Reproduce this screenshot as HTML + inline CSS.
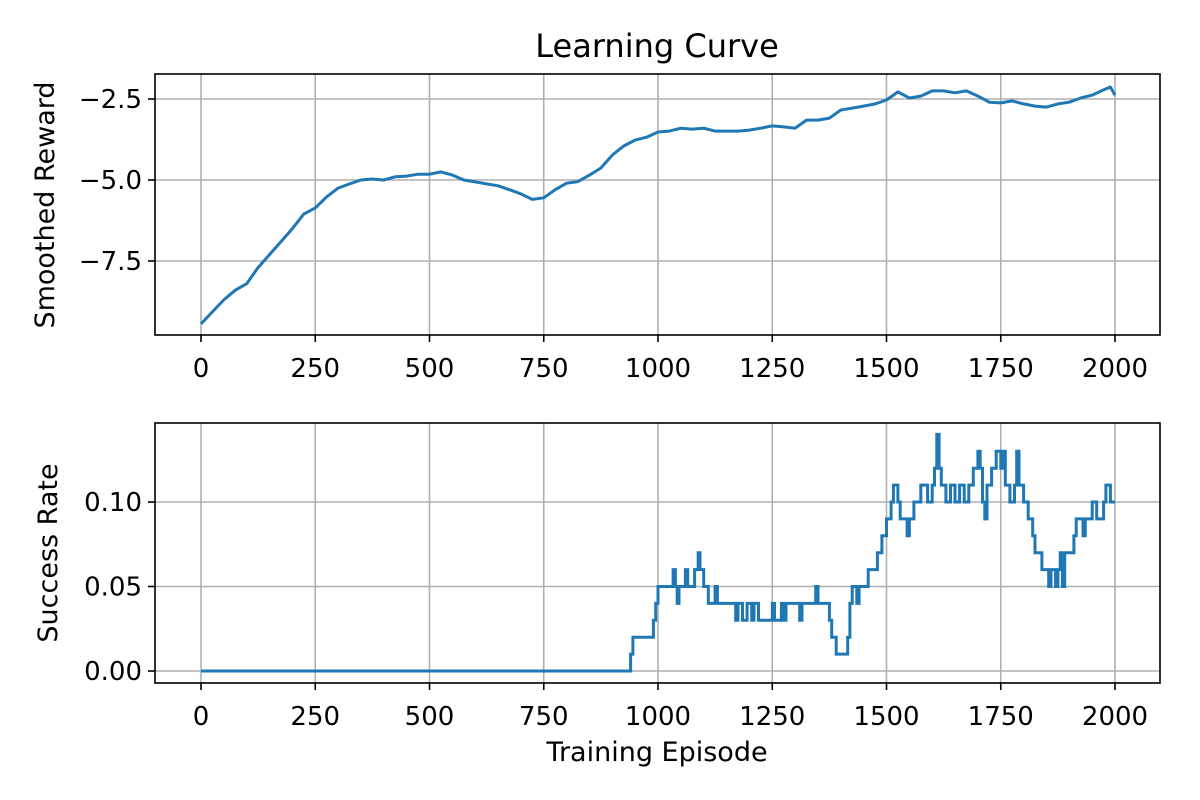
<!DOCTYPE html>
<html><head><meta charset="utf-8"><style>
html,body{margin:0;padding:0;background:#fff}
svg{display:block;font-family:"DejaVu Sans","Liberation Sans",sans-serif}
</style></head><body>
<svg id="chart" width="1200" height="800" viewBox="0 0 1200 800"></svg>
<script>
const episodesTop = [0,25,50,75,100,125,150,175,200,225,250,275,300,325,350,375,400,425,450,475,500,525,550,575,600,625,650,675,700,725,750,775,800,825,850,875,900,925,950,975,1000,1025,1050,1075,1100,1125,1150,1175,1200,1225,1250,1275,1300,1325,1350,1375,1400,1425,1450,1475,1500,1525,1550,1575,1600,1625,1650,1675,1700,1725,1750,1775,1800,1825,1850,1875,1900,1925,1950,1975,1990,2000];
const rewardValues = [-9.44,-9.07,-8.7,-8.4,-8.2,-7.7,-7.3,-6.9,-6.5,-6.05,-5.86,-5.52,-5.25,-5.12,-5.0,-4.97,-5.0,-4.9,-4.88,-4.82,-4.82,-4.75,-4.85,-5.0,-5.06,-5.12,-5.18,-5.3,-5.43,-5.6,-5.55,-5.3,-5.1,-5.05,-4.85,-4.63,-4.23,-3.95,-3.77,-3.68,-3.52,-3.49,-3.4,-3.43,-3.4,-3.49,-3.49,-3.49,-3.46,-3.4,-3.33,-3.36,-3.4,-3.15,-3.15,-3.09,-2.84,-2.78,-2.72,-2.65,-2.53,-2.28,-2.47,-2.41,-2.25,-2.25,-2.31,-2.25,-2.41,-2.6,-2.62,-2.56,-2.65,-2.72,-2.75,-2.65,-2.6,-2.47,-2.38,-2.22,-2.13,-2.38];
const episodesBottom = [0,935,940,945,990,995,1000,1033,1038,1042,1046,1060,1065,1080,1088,1092,1100,1110,1125,1130,1170,1175,1185,1195,1205,1210,1220,1250,1255,1270,1275,1280,1310,1315,1345,1350,1375,1380,1390,1415,1420,1425,1435,1440,1460,1480,1490,1500,1510,1515,1525,1530,1545,1550,1560,1575,1590,1600,1605,1610,1615,1620,1630,1640,1650,1660,1670,1680,1690,1700,1705,1710,1715,1720,1730,1740,1750,1755,1760,1770,1780,1785,1790,1800,1810,1820,1825,1840,1855,1860,1870,1875,1880,1885,1890,1910,1915,1930,1935,1950,1960,1975,1980,1990,2000];
const successValues = [0,0,0.01,0.02,0.03,0.04,0.05,0.06,0.05,0.04,0.05,0.06,0.05,0.06,0.07,0.06,0.05,0.04,0.05,0.04,0.03,0.04,0.03,0.04,0.03,0.04,0.03,0.04,0.03,0.04,0.03,0.04,0.03,0.04,0.05,0.04,0.03,0.02,0.01,0.02,0.04,0.05,0.04,0.05,0.06,0.07,0.08,0.09,0.10,0.11,0.10,0.09,0.08,0.09,0.10,0.11,0.10,0.11,0.12,0.14,0.12,0.11,0.10,0.11,0.10,0.11,0.10,0.11,0.12,0.13,0.12,0.10,0.09,0.11,0.12,0.13,0.12,0.13,0.11,0.10,0.11,0.13,0.11,0.10,0.09,0.08,0.07,0.06,0.05,0.06,0.05,0.06,0.07,0.05,0.07,0.08,0.09,0.08,0.09,0.10,0.09,0.10,0.11,0.10,0.10];
const xTicks = [0,250,500,750,1000,1250,1500,1750,2000];
const yTicksTop = [-2.5,-5.0,-7.5];
const yTicksBottom = [0.00,0.05,0.10];

const NS="http://www.w3.org/2000/svg";
const svg=document.getElementById('chart');
function mk(tag,attrs,parent){const e=document.createElementNS(NS,tag);for(const k in attrs)e.setAttribute(k,attrs[k]);(parent||svg).appendChild(e);return e;}
const X=v=>201+(v/2000)*914;
const YT=v=>99+(-2.5-v)/2.5*81;
const YB=v=>671-(v/0.05)*84.5;
const FS=26;

function panel(name,top,bot,Y,yticks,fmt){
  const g=mk('g',{});
  
  
  xTicks.forEach(t=>{const l=mk('line',{x1:X(t),x2:X(t),y1:top,y2:bot,stroke:'#b0b0b0','stroke-width':1.6},g);
    
    mk('line',{x1:X(t),x2:X(t),y1:bot,y2:bot+7,stroke:'#000','stroke-width':1.6},g);
    const tx=mk('text',{x:X(t),y:bot+42,'text-anchor':'middle','font-size':FS},g);tx.textContent=t;
    });
  yticks.forEach(t=>{const y=Y(t);const l=mk('line',{x1:155,x2:1160,y1:y,y2:y,stroke:'#b0b0b0','stroke-width':1.6},g);
    
    mk('line',{x1:148,x2:155,y1:y,y2:y,stroke:'#000','stroke-width':1.6},g);
    const tx=mk('text',{x:142,y:y+9,'text-anchor':'end','font-size':FS},g);tx.textContent=fmt(t);
    });
  return g;
}
const gt=panel('reward',74,335,YT,yTicksTop,t=>t.toFixed(1).replace('-','\u2212'));
let d='';episodesTop.forEach((e,i)=>{d+=(i?'L':'M')+X(e).toFixed(1)+','+YT(rewardValues[i]).toFixed(1);});
const p1=mk('path',{d:d,fill:'none',stroke:'#1f77b4','stroke-width':3,'stroke-linejoin':'round'},gt);

const r1=mk('rect',{x:155,y:74,width:1005,height:261,fill:'none',stroke:'#000','stroke-width':1.6},gt);


const gb=panel('success',423,683,YB,yTicksBottom,t=>t.toFixed(2));
d='';episodesBottom.forEach((e,i)=>{const x=X(e).toFixed(1),y=YB(successValues[i]).toFixed(1);
  if(i===0)d+='M'+x+','+y;else d+='L'+x+','+YB(successValues[i-1]).toFixed(1)+'L'+x+','+y;});
const p2=mk('path',{d:d,fill:'none',stroke:'#1f77b4','stroke-width':3,'stroke-linejoin':'miter'},gb);

const r2=mk('rect',{x:155,y:423,width:1005,height:260,fill:'none',stroke:'#000','stroke-width':1.6},gb);


const title=mk('text',{x:657,y:57,'text-anchor':'middle','font-size':32});title.textContent='Learning Curve';

const yl1=mk('text',{x:0,y:0,'text-anchor':'middle','font-size':27,transform:'translate(54,205) rotate(-90)'});yl1.textContent='Smoothed Reward';

const yl2=mk('text',{x:0,y:0,'text-anchor':'middle','font-size':27,transform:'translate(57,553) rotate(-90)'});yl2.textContent='Success Rate';

const xl=mk('text',{x:657,y:761,'text-anchor':'middle','font-size':27});xl.textContent='Training Episode';

</script>
</body></html>
